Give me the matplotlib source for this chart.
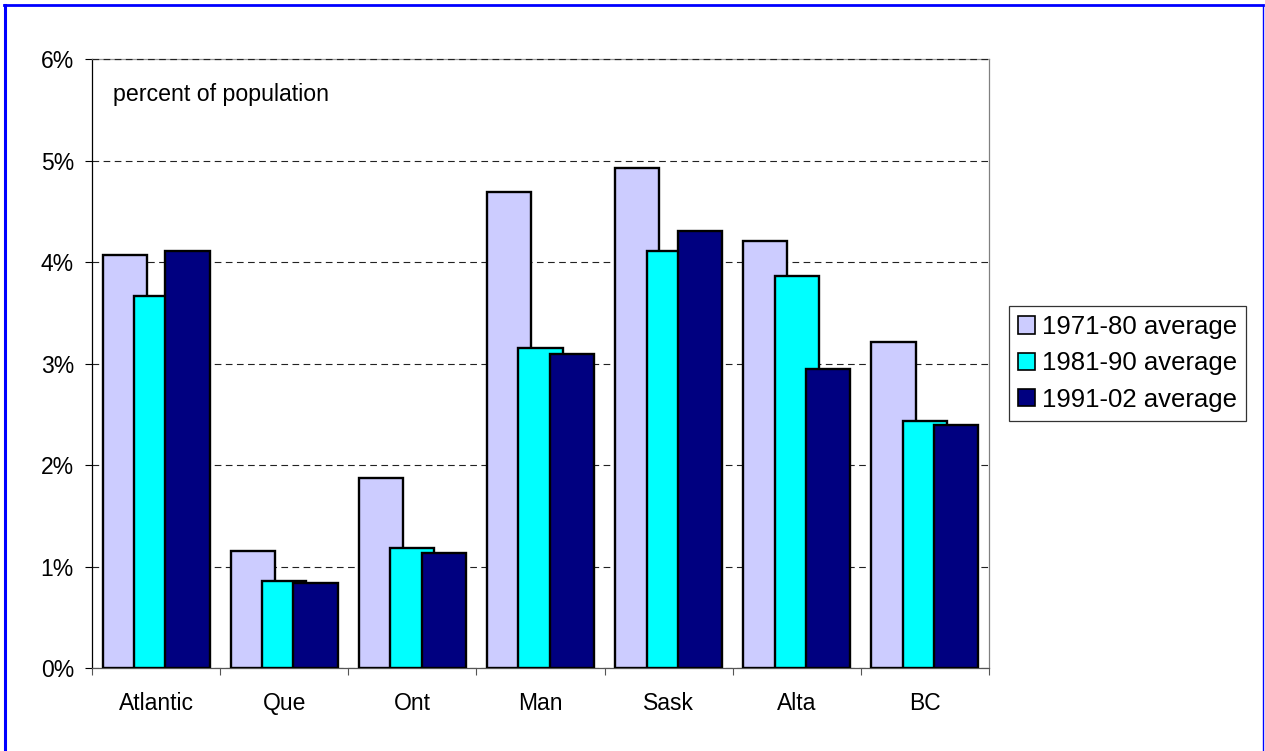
import numpy as np
from matplotlib import pyplot as plt
from matplotlib.lines import Line2D
from matplotlib.ticker import PercentFormatter, FixedLocator

plt.rcParams['font.family'] = ['Liberation Sans', 'DejaVu Sans']

# Provinces / regions along the x axis
regions = ['Atlantic', 'Que', 'Ont', 'Man', 'Sask', 'Alta', 'BC']

# Percent of population
avg_1971_80 = [4.07, 1.15, 1.87, 4.69, 4.93, 4.21, 3.21]
avg_1981_90 = [3.67, 0.86, 1.18, 3.15, 4.11, 3.86, 2.43]
avg_1991_02 = [4.11, 0.84, 1.13, 3.09, 4.31, 2.95, 2.39]

series_labels = ['1971-80 average', '1981-90 average', '1991-02 average']
series_colors = ['#CCCCFF', '#00FFFF', '#000080']
y_ticks = [0, 1, 2, 3, 4, 5, 6]

fig = plt.figure(figsize=(12.65, 7.51), dpi=100)
ax = fig.add_axes([0.0727, 0.1105, 0.7091, 0.8109])

x = np.arange(len(regions))
bar_width = 0.345
step = 0.245  # bars overlap a bit, Excel style
for i, (vals, color, label) in enumerate(zip([avg_1971_80, avg_1981_90, avg_1991_02], series_colors, series_labels)):
    ax.bar(x + (i - 1) * step, vals, width=bar_width, color=color, edgecolor='black',
           linewidth=1.7, label=label, zorder=3 + i)

ax.set_xlim(-0.5, len(regions) - 0.5)
ax.set_ylim(0, 6)

# y axis: percent ticks with dashed gridlines
ax.set_yticks(y_ticks)
ax.yaxis.set_major_formatter(PercentFormatter(decimals=0))
ax.yaxis.grid(True, linestyle=(0, (6, 4)), color='#222222', linewidth=0.8)
ax.set_axisbelow(True)
ax.tick_params(axis='y', length=5, width=0.8, pad=8, labelsize=16.5, direction='out')

# x axis: tick marks between categories, labels centred
ax.xaxis.set_major_locator(FixedLocator(np.arange(-0.5, len(regions), 1.0)))
ax.xaxis.set_minor_locator(FixedLocator(x))
ax.set_xticklabels([])
ax.set_xticklabels(regions, minor=True)
ax.tick_params(axis='x', which='major', length=5, width=0.8, color='#555555', direction='out')
ax.tick_params(axis='x', which='minor', length=0, pad=17, labelsize=16.5)

ax.spines['top'].set_color('#999999')
ax.spines['right'].set_color('#808080')
ax.spines['left'].set_color('black')
ax.spines['bottom'].set_color('#555555')
for s in ax.spines.values():
    s.set_linewidth(0.9)
# dashed gridline on top of the grey plot-area border at 6%
ax.axhline(y_ticks[-1], linestyle=(0, (6, 4)), color='#222222', linewidth=0.8, zorder=2.6, clip_on=False)

ax.text(0.0234, 0.941, 'percent of population', transform=ax.transAxes,
        fontsize=16.7, va='center', ha='left')

leg = fig.legend(loc='upper left', bbox_to_anchor=(0.798, 0.5925), borderaxespad=0,
                 fontsize=18.5, frameon=True, fancybox=False, handlelength=0.65, handleheight=0.65,
                 handletextpad=0.25, labelspacing=0.48, borderpad=0.35)
leg.get_frame().set_edgecolor('black')
leg.get_frame().set_linewidth(0.9)
for h in leg.legend_handles:
    h.set_linewidth(1.2)

# blue outer frame (open at the bottom)
fig.add_artist(Line2D([0.0043, 0.0043], [0.0, 0.9935], color='#0000FF', linewidth=2.2, transform=fig.transFigure))
fig.add_artist(Line2D([0.0035, 0.9985], [0.9935, 0.9935], color='#0000FF', linewidth=2.0, transform=fig.transFigure))
fig.add_artist(Line2D([0.9985, 0.9985], [0.0, 0.9935], color='#0000FF', linewidth=1.0, transform=fig.transFigure))

plt.savefig('out.png', dpi=100)
